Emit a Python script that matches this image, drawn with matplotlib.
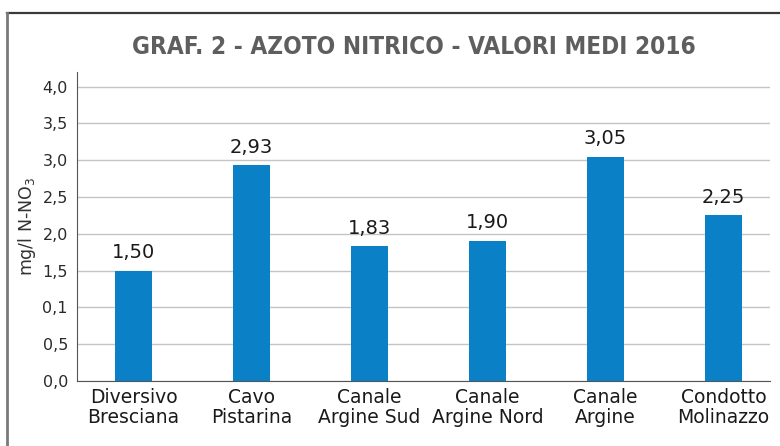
import numpy as np
import matplotlib
matplotlib.use('Agg')
import matplotlib.pyplot as plt
from matplotlib.lines import Line2D

# data
categories = ['Diversivo\nBresciana', 'Cavo\nPistarina', 'Canale\nArgine Sud',
              'Canale\nArgine Nord', 'Canale\nArgine', 'Condotto\nMolinazzo']
values = [1.50, 2.93, 1.83, 1.90, 3.05, 2.25]
value_labels = ['1,50', '2,93', '1,83', '1,90', '3,05', '2,25']
yticks = [0.0, 0.5, 1.0, 1.5, 2.0, 2.5, 3.0, 3.5, 4.0]
ytick_labels = ['0,0', '0,5', '0,1', '1,5', '2,0', '2,5', '3,0', '3,5', '4,0']   # as in the original

fig = plt.figure(figsize=(7.8, 4.46), dpi=100)
ax = fig.add_axes([0.0987, 0.1457, 0.888, 0.693])

x = np.arange(len(categories))
ax.bar(x, values, width=0.31, color='#0a80c6', zorder=3)

for xi, v, lab in zip(x, values, value_labels):
    ax.text(xi, v + 0.12, lab, ha='center', va='bottom', fontsize=14, color='#1a1a1a')

ax.set_ylim(0, 4.2)
ax.set_xlim(-0.48, 5.39)
ax.set_yticks(yticks)
ax.set_yticklabels(ytick_labels, fontsize=11.5, color='#2a2a2a')
ax.set_xticks(x)
ax.set_xticklabels(categories, fontsize=13.5, color='#1a1a1a', linespacing=1.1)
ax.tick_params(axis='y', length=0, pad=6.5)
ax.tick_params(axis='x', length=0, pad=5)

ax.yaxis.grid(True, color='#c4c4c4', linewidth=1, zorder=0)
ax.set_axisbelow(True)
for s in ['top', 'right']:
    ax.spines[s].set_visible(False)
ax.spines['left'].set_color('#555555')
ax.spines['bottom'].set_color('#555555')

ax.set_ylabel('mg/l N-NO$_3$', fontsize=12.5, color='#333333', labelpad=3)

fig.text(0.53, 0.895, 'GRAF. 2 - AZOTO NITRICO - VALORI MEDI 2016',
         ha='center', va='center', fontsize=17.5, fontweight='bold', color='#5e5e5e',
         family='DejaVu Sans', fontstretch='condensed')

# frame lines
fig.add_artist(Line2D([7 / 780, 1], [1 - 13 / 446, 1 - 13 / 446], transform=fig.transFigure,
                      color='#3a3a3a', linewidth=1.6))
fig.add_artist(Line2D([7 / 780, 7 / 780], [0, 1 - 13 / 446], transform=fig.transFigure,
                      color='#7a7a7a', linewidth=2))

fig.savefig('out.png', dpi=100)
